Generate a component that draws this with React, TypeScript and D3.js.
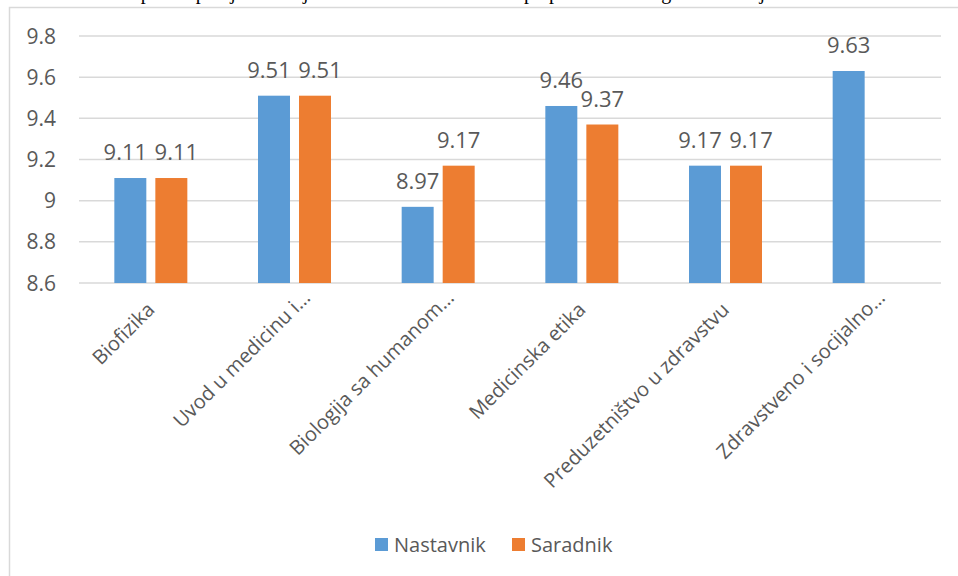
import React from "react";
import * as d3 from "d3";

const categories = [
  "Biofizika",
  "Uvod u medicinu i…",
  "Biologija sa humanom…",
  "Medicinska etika",
  "Preduzetništvo u zdravstvu",
  "Zdravstveno i socijalno…",
];
const seriesNames = ["Nastavnik", "Saradnik"];
const nastavnik = [9.11, 9.51, 8.97, 9.46, 9.17, 9.63];
const saradnik: (number | null)[] = [9.11, 9.51, 9.17, 9.37, 9.17, null];
const yTicks = [8.6, 8.8, 9.0, 9.2, 9.4, 9.6, 9.8];
const caption =
  "Grafikon 1. Grafički prikaz prosječnih ocjena nastavnika i saradnika po predmetima I godine studija";

const colors = ["#5B9BD5", "#ED7D31"];
const W = 958;
const H = 576;
const FONT = "'Open Sans', sans-serif";
const TEXT = "#595959";

export default function App() {
  const left = 79;
  const right = 941;
  const top = 36;
  const bottom = 283;

  const y = d3.scaleLinear().domain([8.6, 9.8]).range([bottom, top]);
  const x0 = d3.scaleBand<string>().domain(categories).range([left, right]).paddingInner(0).paddingOuter(0);
  const groupW = 73;
  const x1 = d3
    .scaleBand<string>()
    .domain(seriesNames)
    .range([(x0.bandwidth() - groupW) / 2, (x0.bandwidth() + groupW) / 2])
    .paddingInner(0.22)
    .paddingOuter(0);

  const series = [nastavnik, saradnik];
  const labelFont = 22;
  const labelW = (s: string) => s.length * 11;
  const labelGap = 7;

  return (
    <svg
      width={W}
      height={H}
      style={{ position: "absolute", left: 0, top: 0, background: "#fff" }}
      fontFamily={FONT}
    >
      <rect x={0} y={0} width={W} height={H} fill="#fff" />
      <text x={-28} y={-1} fontFamily="'Liberation Serif', serif" fontSize={20} fill="#000">
        {caption}
      </text>
      {/* chart frame */}
      <path d={`M9.5,${H + 5} V7.5 H${W + 5}`} fill="none" stroke="#D9D9D9" strokeWidth={1.5} />

      {/* gridlines & y labels */}
      {yTicks.map((t) => (
        <g key={t}>
          <line x1={left} x2={right} y1={y(t)} y2={y(t)} stroke="#D9D9D9" strokeWidth={1.5} />
          <text x={56} y={y(t)} dy="0.36em" textAnchor="end" fontSize={21} fill={TEXT}>
            {d3.format("~g")(t)}
          </text>
        </g>
      ))}

      {/* bars and value labels */}
      {categories.map((c, i) => {
        const items = series
          .map((s, j) => ({ v: s[i], j }))
          .filter((d) => d.v != null) as { v: number; j: number }[];
        const labels = items.map((d) => {
          const txt = d.v.toFixed(2);
          return {
            ...d,
            txt,
            w: labelW(txt),
            cx: x1(seriesNames[d.j])! + x1.bandwidth() / 2,
            ly: y(d.v) - 18,
          };
        });
        // simple collision avoidance for labels at similar heights
        if (labels.length === 2) {
          const [a, b] = labels;
          const need = (a.w + b.w) / 2 + labelGap;
          if (Math.abs(a.ly - b.ly) < 18 && b.cx - a.cx < need) {
            const mid = (a.cx + b.cx) / 2;
            a.cx = mid - need / 2;
            b.cx = mid + need / 2;
          }
        }
        return (
          <g key={c} transform={`translate(${x0(c)},0)`}>
            {items.map((d) => (
              <rect
                key={d.j}
                x={x1(seriesNames[d.j])!}
                y={y(d.v)}
                width={x1.bandwidth()}
                height={y(8.6) - y(d.v)}
                fill={colors[d.j]}
              />
            ))}
            {labels.map((l) => (
              <text
                key={"l" + l.j}
                x={l.cx}
                y={l.ly}
                textAnchor="middle"
                fontSize={labelFont}
                fill={TEXT}
              >
                {l.txt}
              </text>
            ))}
          </g>
        );
      })}

      {/* x labels */}
      {categories.map((c) => {
        const cx = x0(c)! + x0.bandwidth() / 2;
        const shift = c.endsWith("…") ? 17 : 0;
        return (
          <text
            key={c}
            transform={`translate(${cx + 5},311) rotate(-45)`}
            x={shift}
            textAnchor="end"
            fontSize={20}
            fill={TEXT}
          >
            {c}
          </text>
        );
      })}

      {/* legend */}
      {seriesNames.map((n, j) => {
        const lx = [375, 512][j];
        return (
          <g key={n}>
            <rect x={lx} y={538} width={13} height={13} fill={colors[j]} />
            <text x={lx + 19} y={552} fontSize={20} fill={TEXT}>
              {n}
            </text>
          </g>
        );
      })}
    </svg>
  );
}
